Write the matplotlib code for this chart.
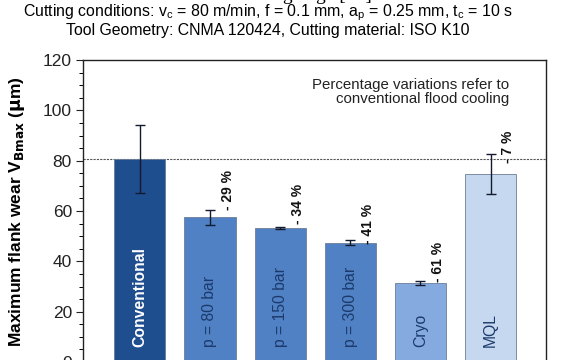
import matplotlib
matplotlib.use("Agg")
import matplotlib.pyplot as plt
from matplotlib.ticker import MultipleLocator

plt.rcParams["font.family"] = ["Liberation Sans", "DejaVu Sans"]

# flank wear per cooling strategy (um) with scatter
labels = ["Conventional", "p = 80 bar", "p = 150 bar", "p = 300 bar", "Cryo", "MQL"]
wear = [80.5, 57.5, 53.3, 47.3, 31.4, 74.8]
wear_err = [13.5, 3.0, 0.5, 1.0, 0.8, 8.0]
changes = ["", "- 29 %", "- 34 %", "- 41 %", "- 61 %", "- 7 %"]

colors = ["#1f4e8f", "#4f81c4", "#4f81c4", "#4f81c4", "#84aae0", "#c6d8f0"]
label_colors = ["white", "#1c3a6b", "#1c3a6b", "#1c3a6b", "#1c3a6b", "#1c3a6b"]
label_weights = ["bold", "normal", "normal", "normal", "normal", "normal"]
# vertical start of the percentage labels
change_y = [0, 60.5, 55.0, 47.0, 31.6, 79.0]

fig = plt.figure(figsize=(5.78, 3.6), dpi=100)
# the lower part of the frame runs past the bottom edge of the image
ax = fig.add_axes([83 / 578, -2 / 360, 463 / 578, 302 / 360])

x = list(range(len(labels)))
ax.bar(x, wear, width=0.73, color=colors, edgecolor="#6d7d96", linewidth=0.6, zorder=2)
ax.errorbar(x, wear, yerr=wear_err, fmt="none", ecolor="#111a2e",
            elinewidth=1.0, capsize=3.6, capthick=1.0, zorder=3)

# reference level of conventional flood cooling
ax.axhline(wear[0], color="#555555", linestyle=(0, (2, 1)), linewidth=0.8, zorder=1)

for xi, lab, col, fw in zip(x, labels, label_colors, label_weights):
    ax.text(xi, 6.0, lab, rotation=90, ha="center", va="bottom", color=col,
            fontsize=11.3, fontweight=fw, zorder=4)

for xi, yi, c in zip(x, change_y, changes):
    if c:
        ax.text(xi + 0.25, yi, c, rotation=90, ha="center", va="bottom",
                fontsize=10, fontweight="bold", color="#111111", zorder=4)

ax.text(5.27, 113.0, "Percentage variations refer to\nconventional flood cooling",
        ha="right", va="top", fontsize=10.8, color="#222222", linespacing=1.05,
        multialignment="right")

ax.set_xlim(-0.81, 5.79)
ax.set_ylim(0, 120)
ax.yaxis.set_major_locator(MultipleLocator(20))
ax.yaxis.set_minor_locator(MultipleLocator(5))
ax.tick_params(axis="y", which="major", direction="out", length=5, width=0.8,
               labelsize=12.5, pad=3, colors="#222222")
ax.tick_params(axis="y", which="minor", direction="out", length=3, width=0.7)
ax.tick_params(axis="x", bottom=False, labelbottom=False)
for s in ax.spines.values():
    s.set_linewidth(1.0)
    s.set_color("#222222")

ax.set_ylabel(r"Maximum flank wear V$_{\mathbf{Bmax}}$ ($\mathbf{\mu}$m)",
              fontsize=12.5, fontweight="bold", labelpad=4)
ax.yaxis.set_label_coords(-0.122, 0.497)

fig.text(268 / 578, 1 - 13 / 360,
         "Cutting conditions: v$_\\mathregular{c}$ = 80 m/min, f = 0.1 mm, "
         "a$_\\mathregular{p}$ = 0.25 mm, t$_\\mathregular{c}$ = 10 s",
         ha="center", va="center", fontsize=11.4)
fig.text(268 / 578, 1 - 30.5 / 360, "Tool Geometry: CNMA 120424, Cutting material: ISO K10",
         ha="center", va="center", fontsize=11.4)
# caption line of the page above, mostly cut off
fig.text(372 / 578, 1 + 0.5 / 360, "Flank wear on the cutting edge [16]",
         ha="right", va="baseline", fontsize=14, family="Liberation Serif")

fig.savefig("out.png", dpi=100)
